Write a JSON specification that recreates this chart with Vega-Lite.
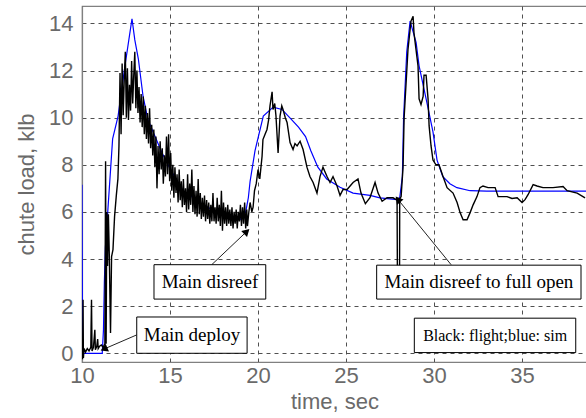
{
"$schema": "https://vega.github.io/schema/vega-lite/v6.json",
"width": 505, "height": 356,
"autosize": {"type": "none"},
"padding": {"left": 82, "top": 6, "right": 0, "bottom": 56},
"background": "white",
"config": {
 "view": {"stroke": "#808080", "strokeWidth": 1.2},
 "axis": {"grid": true, "gridDash": [4, 4], "gridColor": "#505050", "gridWidth": 1, "gridOpacity": 1, "ticks": false, "labelFlush": false, "domainColor": "#808080", "domainWidth": 1.2, "labelFont": "Liberation Sans", "labelFontSize": 22, "labelColor": "#6a6a6a", "titleFont": "Liberation Sans", "titleFontSize": 22, "titleFontWeight": "normal", "titleColor": "#6a6a6a"}
},
"datasets": {
 "flight": [
  {"t":10.00,"load":0.0},{"t":10.03,"load":-0.25},{"t":10.06,"load":2.27},{"t":10.08,"load":-0.2},{"t":10.12,"load":0.2},{"t":10.2,"load":0.05},{"t":10.3,"load":0.2},{"t":10.4,"load":0.1},{"t":10.5,"load":0.25},{"t":10.54,"load":2.27},{"t":10.57,"load":0.1},{"t":10.65,"load":0.25},{"t":10.73,"load":1.0},{"t":10.76,"load":0.15},{"t":10.84,"load":0.3},{"t":10.89,"load":0.6},{"t":10.92,"load":0.2},{"t":11.0,"load":0.3},{"t":11.1,"load":0.35},{"t":11.2,"load":0.25},{"t":11.3,"load":0.4},{"t":11.34,"load":8.15},{"t":11.37,"load":0.4},{"t":11.41,"load":6.0},{"t":11.45,"load":3.7},{"t":11.5,"load":5.9},{"t":11.55,"load":4.2},{"t":11.62,"load":0.86},{"t":11.68,"load":4.1},{"t":11.76,"load":4.4},{"t":11.85,"load":5.8},{"t":11.95,"load":6.7},{"t":12.04,"load":7.4},{"t":12.10,"load":8.8},
  {"t":12.16,"load":11.9},{"t":12.22,"load":9.3},{"t":12.28,"load":12.3},{"t":12.34,"load":10.1},{"t":12.40,"load":11.6},{"t":12.46,"load":12.8},{"t":12.52,"load":10.0},{"t":12.58,"load":12.1},{"t":12.64,"load":9.9},{"t":12.70,"load":11.4},{"t":12.76,"load":10.3},{"t":12.82,"load":12.4},{"t":12.88,"load":10.6},{"t":12.94,"load":11.8},{"t":13.00,"load":12.8},{"t":13.06,"load":10.4},{"t":13.12,"load":12.0},{"t":13.18,"load":10.2},{"t":13.24,"load":11.3},{"t":13.30,"load":9.8},{"t":13.36,"load":11.0},{"t":13.42,"load":9.6},{"t":13.48,"load":10.9},{"t":13.54,"load":9.3},{"t":13.60,"load":10.5},{"t":13.66,"load":9.1},{"t":13.72,"load":10.2},{"t":13.78,"load":8.9},{"t":13.84,"load":10.4},{"t":13.90,"load":8.7},{"t":13.96,"load":9.7},{"t":14.02,"load":8.4},{"t":14.08,"load":9.5},{"t":14.14,"load":7.9},{"t":14.20,"load":9.2},{"t":14.26,"load":7.0},{"t":14.32,"load":8.8},{"t":14.38,"load":7.6},{"t":14.44,"load":9.0},{"t":14.50,"load":7.8},{"t":14.56,"load":8.7},{"t":14.62,"load":7.2},{"t":14.68,"load":8.4},{"t":14.74,"load":7.5},{"t":14.80,"load":9.2},{"t":14.86,"load":7.6},{"t":14.92,"load":9.3},{"t":14.98,"load":7.3},{"t":15.04,"load":8.5},{"t":15.10,"load":6.9},{"t":15.16,"load":8.0},{"t":15.22,"load":6.6},{"t":15.28,"load":7.9},{"t":15.34,"load":6.8},{"t":15.40,"load":7.6},{"t":15.46,"load":6.4},{"t":15.52,"load":7.8},{"t":15.58,"load":6.5},{"t":15.64,"load":7.3},{"t":15.70,"load":6.2},{"t":15.76,"load":7.4},{"t":15.82,"load":6.3},{"t":15.88,"load":7.0},{"t":15.94,"load":6.0},{"t":16.00,"load":7.6},{"t":16.06,"load":6.1},{"t":16.12,"load":7.2},{"t":16.18,"load":6.3},{"t":16.24,"load":7.8},{"t":16.30,"load":6.0},{"t":16.36,"load":7.1},{"t":16.42,"load":5.9},{"t":16.48,"load":6.9},{"t":16.54,"load":5.8},{"t":16.60,"load":7.4},{"t":16.66,"load":5.9},{"t":16.72,"load":6.8},{"t":16.78,"load":5.7},{"t":16.84,"load":6.6},{"t":16.90,"load":5.8},{"t":16.96,"load":6.7},{"t":17.02,"load":5.6},{"t":17.08,"load":6.5},{"t":17.14,"load":5.7},{"t":17.20,"load":6.4},{"t":17.26,"load":5.5},{"t":17.32,"load":6.3},{"t":17.38,"load":5.6},{"t":17.44,"load":6.8},{"t":17.50,"load":5.6},{"t":17.56,"load":6.2},{"t":17.62,"load":5.5},{"t":17.68,"load":6.6},{"t":17.74,"load":5.6},{"t":17.80,"load":6.3},{"t":17.86,"load":5.4},{"t":17.92,"load":6.9},{"t":17.98,"load":5.2},{"t":18.04,"load":6.4},{"t":18.10,"load":5.5},{"t":18.16,"load":6.2},{"t":18.22,"load":5.4},{"t":18.28,"load":6.3},{"t":18.34,"load":5.5},{"t":18.40,"load":6.1},{"t":18.46,"load":5.4},{"t":18.52,"load":6.2},{"t":18.58,"load":5.3},{"t":18.64,"load":6.0},{"t":18.70,"load":5.5},{"t":18.76,"load":6.1},{"t":18.82,"load":5.3},{"t":18.88,"load":6.0},{"t":18.94,"load":5.6},{"t":19.00,"load":6.3},{"t":19.06,"load":5.4},{"t":19.12,"load":6.2},{"t":19.18,"load":5.5},{"t":19.24,"load":6.4},{"t":19.30,"load":5.3},{"t":19.36,"load":6.1},{"t":19.40,"load":5.4},
  {"t":19.48,"load":6.0},{"t":19.55,"load":6.4},{"t":19.65,"load":6.0},{"t":19.72,"load":6.2},{"t":19.8,"load":6.9},{"t":19.9,"load":7.2},{"t":20.0,"load":7.8},{"t":20.1,"load":7.4},{"t":20.23,"load":8.36},{"t":20.28,"load":9.07},{"t":20.4,"load":9.3},{"t":20.51,"load":9.5},{"t":20.6,"load":9.9},{"t":20.68,"load":10.5},{"t":20.8,"load":11.1},{"t":20.85,"load":10.35},{"t":20.95,"load":10.6},{"t":21.02,"load":10.07},{"t":21.14,"load":8.5},{"t":21.25,"load":10.07},{"t":21.35,"load":10.5},{"t":21.42,"load":10.35},{"t":21.55,"load":10.0},{"t":21.65,"load":9.8},{"t":21.82,"load":8.94},{"t":21.99,"load":8.65},{"t":22.1,"load":8.9},{"t":22.22,"load":8.8},{"t":22.39,"load":9.0},{"t":22.56,"load":8.65},{"t":22.78,"load":7.9},{"t":22.95,"load":7.5},{"t":23.13,"load":7.25},{"t":23.35,"load":6.8},{"t":23.52,"load":7.5},{"t":23.69,"load":7.9},{"t":23.92,"load":7.5},{"t":24.09,"load":7.25},{"t":24.26,"load":7.5},{"t":24.49,"load":7.1},{"t":24.66,"load":6.7},{"t":24.83,"load":6.95},{"t":25.06,"load":6.95},{"t":25.4,"load":7.25},{"t":25.68,"load":7.4},{"t":25.85,"load":6.8},{"t":26.1,"load":6.35},{"t":26.36,"load":6.6},{"t":26.65,"load":7.25},{"t":26.82,"load":6.8},{"t":27.05,"load":6.45},{"t":27.33,"load":6.6},{"t":27.67,"load":6.6},{"t":27.9,"load":6.5},
  {"t":27.92,"load":3.0},{"t":28.04,"load":3.0},{"t":28.05,"load":6.55},{"t":28.13,"load":6.65},{"t":28.24,"load":7.9},{"t":28.3,"load":10.0},{"t":28.52,"load":12.9},{"t":28.69,"load":14.1},{"t":28.81,"load":14.3},{"t":28.86,"load":13.6},{"t":29.09,"load":12.2},{"t":29.15,"load":10.8},{"t":29.26,"load":10.56},{"t":29.38,"load":10.9},{"t":29.43,"load":11.8},{"t":29.55,"load":11.8},{"t":29.66,"load":10.8},{"t":29.72,"load":9.65},{"t":29.83,"load":8.8},{"t":29.94,"load":8.2},{"t":30.11,"load":8.0},{"t":30.28,"load":8.0},{"t":30.51,"load":7.5},{"t":30.74,"load":7.03},{"t":31.08,"load":6.8},{"t":31.31,"load":6.4},{"t":31.48,"load":5.97},{"t":31.65,"load":5.67},{"t":31.875,"load":5.67},{"t":32.05,"load":5.97},{"t":32.22,"load":6.3},{"t":32.44,"load":6.65},{"t":32.61,"load":7.03},{"t":32.78,"load":7.1},{"t":33.07,"load":7.03},{"t":33.47,"load":7.03},{"t":33.64,"load":6.65},{"t":34.15,"load":6.65},{"t":34.43,"load":6.57},{"t":34.72,"load":6.6},{"t":35.0,"load":6.4},{"t":35.17,"load":6.52},{"t":35.34,"load":6.73},{"t":35.63,"load":7.16},{"t":35.85,"load":7.1},{"t":36.19,"load":7.03},{"t":36.76,"load":7.03},{"t":37.33,"load":7.08},{"t":37.56,"load":6.9},{"t":38.13,"load":6.8},{"t":38.58,"load":6.6}
 ],
 "sim": [
  {"t":10.0,"load":7.15},{"t":10.03,"load":0.0},{"t":11.15,"load":0.0},{"t":11.22,"load":1.0},{"t":11.27,"load":3.0},{"t":11.33,"load":4.5},{"t":11.48,"load":6.2},{"t":11.74,"load":9.1},{"t":12.05,"load":10.07},{"t":12.44,"load":12.2},{"t":12.84,"load":14.2},{"t":13.0,"load":13.3},{"t":13.2,"load":12.5},{"t":13.47,"load":10.9},{"t":13.75,"load":9.9},{"t":13.98,"load":9.5},{"t":14.55,"load":8.5},{"t":15.1,"load":7.7},{"t":15.75,"load":6.9},{"t":16.7,"load":6.4},{"t":17.67,"load":5.97},{"t":18.4,"load":5.76},{"t":18.98,"load":5.67},{"t":19.3,"load":6.0},{"t":19.45,"load":6.6},{"t":19.55,"load":7.3},{"t":19.83,"load":8.6},{"t":20.3,"load":10.07},{"t":20.86,"load":10.45},{"t":21.36,"load":10.35},{"t":21.8,"load":10.0},{"t":22.3,"load":9.6},{"t":22.7,"load":9.2},{"t":23.0,"load":8.6},{"t":23.4,"load":7.9},{"t":23.9,"load":7.4},{"t":24.66,"load":7.05},{"t":25.4,"load":6.8},{"t":26.36,"load":6.7},{"t":26.93,"load":6.6},{"t":27.9,"load":6.52},{"t":28.05,"load":6.6},{"t":28.2,"load":7.5},{"t":28.27,"load":10.0},{"t":28.45,"load":12.8},{"t":28.64,"load":14.1},{"t":28.98,"load":13.2},{"t":29.15,"load":12.2},{"t":29.55,"load":10.8},{"t":29.94,"load":9.4},{"t":30.17,"load":8.2},{"t":30.5,"load":7.5},{"t":30.9,"load":7.2},{"t":31.3,"load":7.03},{"t":32.05,"load":6.9},{"t":33.0,"load":6.88},{"t":38.69,"load":6.88}
 ],
 "boxes": [
  {"name":"deploy","t":13.11,"t2":19.38,"load":0.0,"load2":1.54},
  {"name":"disreef","t":14.09,"t2":20.44,"load":2.30,"load2":3.76},
  {"name":"fullopen","t":26.74,"t2":38.35,"load":2.30,"load2":3.74},
  {"name":"legend","t":28.88,"t2":38.05,"load":0.03,"load2":1.49}
 ],
 "labels": [
  {"name":"deploy","t":16.25,"load":0.76,"text":"Main deploy"},
  {"name":"disreef","t":17.27,"load":3.01,"text":"Main disreef"},
  {"name":"fullopen","t":32.55,"load":3.01,"text":"Main disreef to full open"},
  {"name":"legend","t":33.47,"load":0.74,"text":"Black: flight;blue: sim"}
 ],
 "arrows": [
  {"name":"deploy","t":11.25,"load":0.18,"t2":13.11,"load2":0.78},
  {"name":"disreef","t":19.36,"load":5.17,"t2":17.37,"load2":3.76},
  {"name":"fullopen","t":27.95,"load":6.53,"t2":30.97,"load2":3.76}
 ]
},
"encoding": {
 "x": {"field": "t", "type": "quantitative", "scale": {"domain": [10, 38.69], "nice": false, "zero": false}, "axis": {"values": [10, 15, 20, 25, 30, 35], "title": "time, sec", "labelPadding": 3, "titlePadding": 5}},
 "y": {"field": "load", "type": "quantitative", "scale": {"domain": [-0.37, 14.74], "nice": false, "zero": false}, "axis": {"values": [0, 2, 4, 6, 8, 10, 12, 14], "title": "chute load, klb", "labelPadding": 9, "titlePadding": 10}}
},
"layer": [
 {"data": {"name": "sim"}, "mark": {"type": "line", "color": "#0000ff", "strokeWidth": 1.2, "clip": true}},
 {"data": {"name": "flight"}, "mark": {"type": "line", "color": "#000000", "strokeWidth": 1.4, "clip": true}},
 {"data": {"name": "arrows"}, "mark": {"type": "rule", "color": "#222222", "strokeWidth": 1}, "encoding": {"x2": {"field": "t2"}, "y2": {"field": "load2"}}},
 {"data": {"name": "arrows"}, "transform": [{"filter": "datum.name === 'deploy'"}], "mark": {"type": "point", "shape": "triangle-up", "filled": true, "color": "#000000", "opacity": 1, "size": 70, "angle": 247}},
 {"data": {"name": "arrows"}, "transform": [{"filter": "datum.name === 'disreef'"}], "mark": {"type": "point", "shape": "triangle-up", "filled": true, "color": "#000000", "opacity": 1, "size": 70, "angle": 46}},
 {"data": {"name": "arrows"}, "transform": [{"filter": "datum.name === 'fullopen'"}], "mark": {"type": "point", "shape": "triangle-up", "filled": true, "color": "#000000", "opacity": 1, "size": 70, "angle": 321}},
 {"data": {"name": "boxes"}, "mark": {"type": "rect", "fill": "#ffffff", "stroke": "#000000", "strokeWidth": 1}, "encoding": {"x2": {"field": "t2"}, "y2": {"field": "load2"}}},
 {"data": {"name": "labels"}, "transform": [{"filter": "datum.name !== 'legend'"}], "mark": {"type": "text", "font": "Liberation Serif", "fontSize": 19, "color": "#000000", "align": "center", "baseline": "middle"}, "encoding": {"text": {"field": "text"}}},
 {"data": {"name": "labels"}, "transform": [{"filter": "datum.name === 'legend'"}], "mark": {"type": "text", "font": "Liberation Serif", "fontSize": 16, "color": "#000000", "align": "center", "baseline": "middle"}, "encoding": {"text": {"field": "text"}}}
]
}
